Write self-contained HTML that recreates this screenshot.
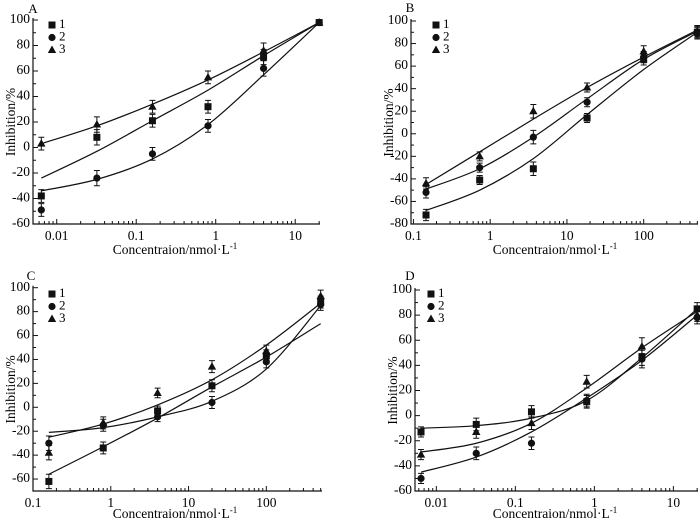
<!DOCTYPE html>
<html><head><meta charset="utf-8"><style>
body{margin:0;background:#fff}
svg{display:block;font-family:"Liberation Serif",serif}
</style></head><body>
<svg id="fig" width="700" height="522" viewBox="0 0 700 522"></svg>
<script>
// ---- data ----
const xA = [0.0064, 0.032, 0.16, 0.8, 4, 20];
const A1 = [-38, 8, 21, 32, 71, 98];
const A2 = [-49, -24, -5, 17, 62, 98];
const A3 = [3, 18, 32, 55, 76, 98];
const A1fit = [-24, -3, 21, 45, 72, 98];
const A2fit = [-34, -25, -9, 18, 57, 98];
const A3fit = [3, 17, 34, 53, 75, 98];

const xB = [0.146, 0.73, 3.65, 18.3, 100, 500];
const B1 = [-72, -41, -31, 14, 66, 90];
const B2 = [-52, -30, -3, 28, 68, 89];
const B3 = [-44, -20, 20, 41, 73, 91];
const B1fit = [-68, -50, -22, 17, 57, 90];
const B2fit = [-49, -31, -3, 31, 66, 91];
const B3fit = [-45, -16, 13, 41, 68, 92];

const xC = [0.16, 0.8, 4, 20, 100, 500];
const C1 = [-62, -34, -3, 18, 43, 88];
const C2 = [-30, -15, -8, 4, 38, 86];
const C3 = [-38, -13, 12, 34, 47, 93];
const C1fit = [-56, -33, -9, 17, 42, 70];
const C2fit = [-21, -17, -8, 5, 32, 85];
const C3fit = [-25, -14, 2, 23, 52, 87];

const xD = [0.0064, 0.032, 0.16, 0.8, 4, 20];
const D1 = [-13, -7, 3, 11, 47, 85];
const D2 = [-50, -30, -22, 12, 45, 78];
const D3 = [-31, -13, -6, 27, 55, 80];
const D1fit = [-10, -8, -2, 12, 46, 85];
const D2fit = [-45, -33, -13, 14, 44, 80];
const D3fit = [-29, -22, -6, 22, 54, 83];

const errA = [5, 6, 5, 5, 6, 2];
const errB = [5, 4, 6, 4, 5, 5];
const errC = [6, 5, 4, 5, 5, 5];
const errD = [4, 5, 5, 5, 7, 5];

const xTicksSmall = ["0.01", "0.1", "1", "10"];
const xTicksBig = ["0.1", "1", "10", "100"];
const yTicks100 = [-60, -40, -20, 0, 20, 40, 60, 80, 100];
const yTicksB = [-80, -60, -40, -20, 0, 20, 40, 60, 80, 100];
const yTicksC = [-60, -40, -20, 0, 20, 40, 60, 80, 100];

const NS = "http://www.w3.org/2000/svg";
const svg = document.getElementById("fig");
function mk(tag, attrs, parent, txt) {
  const e = document.createElementNS(NS, tag);
  for (const k in attrs) e.setAttribute(k, attrs[k]);
  if (txt !== undefined) e.textContent = txt;
  (parent || svg).appendChild(e);
  return e;
}

const panels = [
  {id:"a", label:"A", lx:33, ly:10, x0:33, x1:320, y0:224, y1:20, lmin:Math.log10(0.00503), lmax:Math.log10(20.5), vmin:-60, vmax:100,
   xs:xA, s:[A1,A2,A3], f:[A1fit,A2fit,A3fit], err:errA, xt:xTicksSmall, yt:yTicks100, leg:[52,25], tx:175, ty:254},
  {id:"b", label:"B", lx:410, ly:9, x0:411, x1:698, y0:224, y1:21, lmin:Math.log10(0.093), lmax:Math.log10(510), vmin:-80, vmax:100,
   xs:xB, s:[B1,B2,B3], f:[B1fit,B2fit,B3fit], err:errB, xt:xTicksBig, yt:yTicksB, leg:[436,25], tx:555, ty:254},
  {id:"c", label:"C", lx:31, ly:277, x0:33, x1:322, y0:491, y1:287.7, lmin:Math.log10(0.1), lmax:Math.log10(520), vmin:-70, vmax:100,
   xs:xC, s:[C1,C2,C3], f:[C1fit,C2fit,C3fit], err:errC, xt:xTicksBig, yt:yTicksC, leg:[52,294], tx:175, ty:518},
  {id:"d", label:"D", lx:410, ly:277, x0:415, x1:698, y0:491, y1:290, lmin:Math.log10(0.00537), lmax:Math.log10(20.5), vmin:-60, vmax:100,
   xs:xD, s:[D1,D2,D3], f:[D1fit,D2fit,D3fit], err:errD, xt:xTicksSmall, yt:yTicks100, leg:[431,294], tx:555, ty:518}
];

function marker(g, kind, x, y) {
  let m;
  if (kind === 0) m = mk("rect", {x:x-3.5, y:y-3.5, width:7, height:7, fill:"#111"}, g);
  else if (kind === 1) m = mk("circle", {cx:x, cy:y, r:3.6, fill:"#111"}, g);
  else m = mk("polygon", {points:`${x},${y-4.5} ${x+4.2},${y+3} ${x-4.2},${y+3}`, fill:"#111"}, g);
  return m;
}

function smooth(pts) {
  let d = `M${pts[0][0]},${pts[0][1]}`;
  for (let i = 0; i < pts.length - 1; i++) {
    const p0 = pts[Math.max(0, i-1)], p1 = pts[i], p2 = pts[i+1], p3 = pts[Math.min(pts.length-1, i+2)];
    const c1x = p1[0] + (p2[0]-p0[0])/6, c1y = p1[1] + (p2[1]-p0[1])/6;
    const c2x = p2[0] - (p3[0]-p1[0])/6, c2y = p2[1] - (p3[1]-p1[1])/6;
    d += ` C${c1x},${c1y} ${c2x},${c2y} ${p2[0]},${p2[1]}`;
  }
  return d;
}

panels.forEach(p => {
  const g = mk("g", {});
  
  
  const X = v => p.x0 + (Math.log10(v) - p.lmin) / (p.lmax - p.lmin) * (p.x1 - p.x0);
  const Y = v => p.y0 - (v - p.vmin) / (p.vmax - p.vmin) * (p.y0 - p.y1);

  const lab = mk("text", {x:p.lx, y:p.ly, "font-size":13, "text-anchor":"middle", "dominant-baseline":"middle"}, g, p.label);
  
  

  const ax = mk("path", {d:`M${p.x0},${p.y1-2} V${p.y0} H${p.x1}`, stroke:"#111", "stroke-width":1.2, fill:"none"}, g);
  
  

  p.yt.forEach((v, i) => {
    const y = Y(v);
    mk("line", {x1:p.x0, x2:p.x0+5, y1:y, y2:y, stroke:"#111"}, g);
    if (i < p.yt.length - 1) { const ym = Y(v + 10); mk("line", {x1:p.x0, x2:p.x0+3, y1:ym, y2:ym, stroke:"#111"}, g); }
    const t = mk("text", {x:p.x0-3, y:y, "font-size":13.5, "text-anchor":"end", "dominant-baseline":"middle"}, g, String(v));
    
    
  });
  if (p.vmin === -70) { const y = Y(-70); mk("line", {x1:p.x0, x2:p.x0+3, y1:y, y2:y, stroke:"#111"}, g); }

  const dmin = Math.floor(p.lmin), dmax = Math.ceil(p.lmax);
  for (let d = dmin; d <= dmax; d++) {
    for (let k = 1; k <= 9; k++) {
      const v = k * Math.pow(10, d);
      const lv = Math.log10(v);
      if (lv < p.lmin - 1e-9 || lv > p.lmax + 1e-9) continue;
      const x = X(v);
      mk("line", {x1:x, x2:x, y1:p.y0, y2:p.y0 - (k === 1 ? 5 : 3), stroke:"#111"}, g);
    }
  }
  p.xt.forEach(s => {
    const t = mk("text", {x:X(parseFloat(s)), y:p.y0+16, "font-size":13.5, "text-anchor":"middle"}, g, s);
    
    
  });

  const xt = mk("text", {x:p.tx, y:p.ty, "font-size":13.5, "text-anchor":"middle"}, g);
  
  
  xt.appendChild(document.createTextNode("Concentraion/nmol·L"));
  mk("tspan", {dy:-5, "font-size":9}, xt, "-1");
  const yc = (p.y0 + p.y1) / 2;
  const yx = p.x0 - 18;
  const yt = mk("text", {x:yx, y:yc, "font-size":13.5, "text-anchor":"middle", transform:`rotate(-90 ${yx} ${yc})`}, g, "Inhibition/%");
  
  

  p.f.forEach((fv, si) => {
    const pts = p.xs.map((x, i) => [X(x), Y(fv[i])]);
    const path = mk("path", {d:smooth(pts), stroke:"#111", "stroke-width":1.2, fill:"none"}, g);
    
    
  });

  p.s.forEach((vals, si) => {
    vals.forEach((v, i) => {
      const x = X(p.xs[i]), y = Y(v), e = p.err[i] * (p.y0 - p.y1) / (p.vmax - p.vmin);
      mk("path", {d:`M${x},${y-e} V${y+e} M${x-3},${y-e} H${x+3} M${x-3},${y+e} H${x+3}`, stroke:"#111", "stroke-width":1}, g);
      const m = marker(g, si, x, y);
      
      
    });
  });

  ["1","2","3"].forEach((s, i) => {
    const lx = p.leg[0], ly = p.leg[1] + i * 12.5;
    const m = marker(g, i, lx, ly);
    
    
    const t = mk("text", {x:lx+7, y:ly, "font-size":13, "dominant-baseline":"middle"}, g, s);
    
    
  });
});
</script>
</body></html>
